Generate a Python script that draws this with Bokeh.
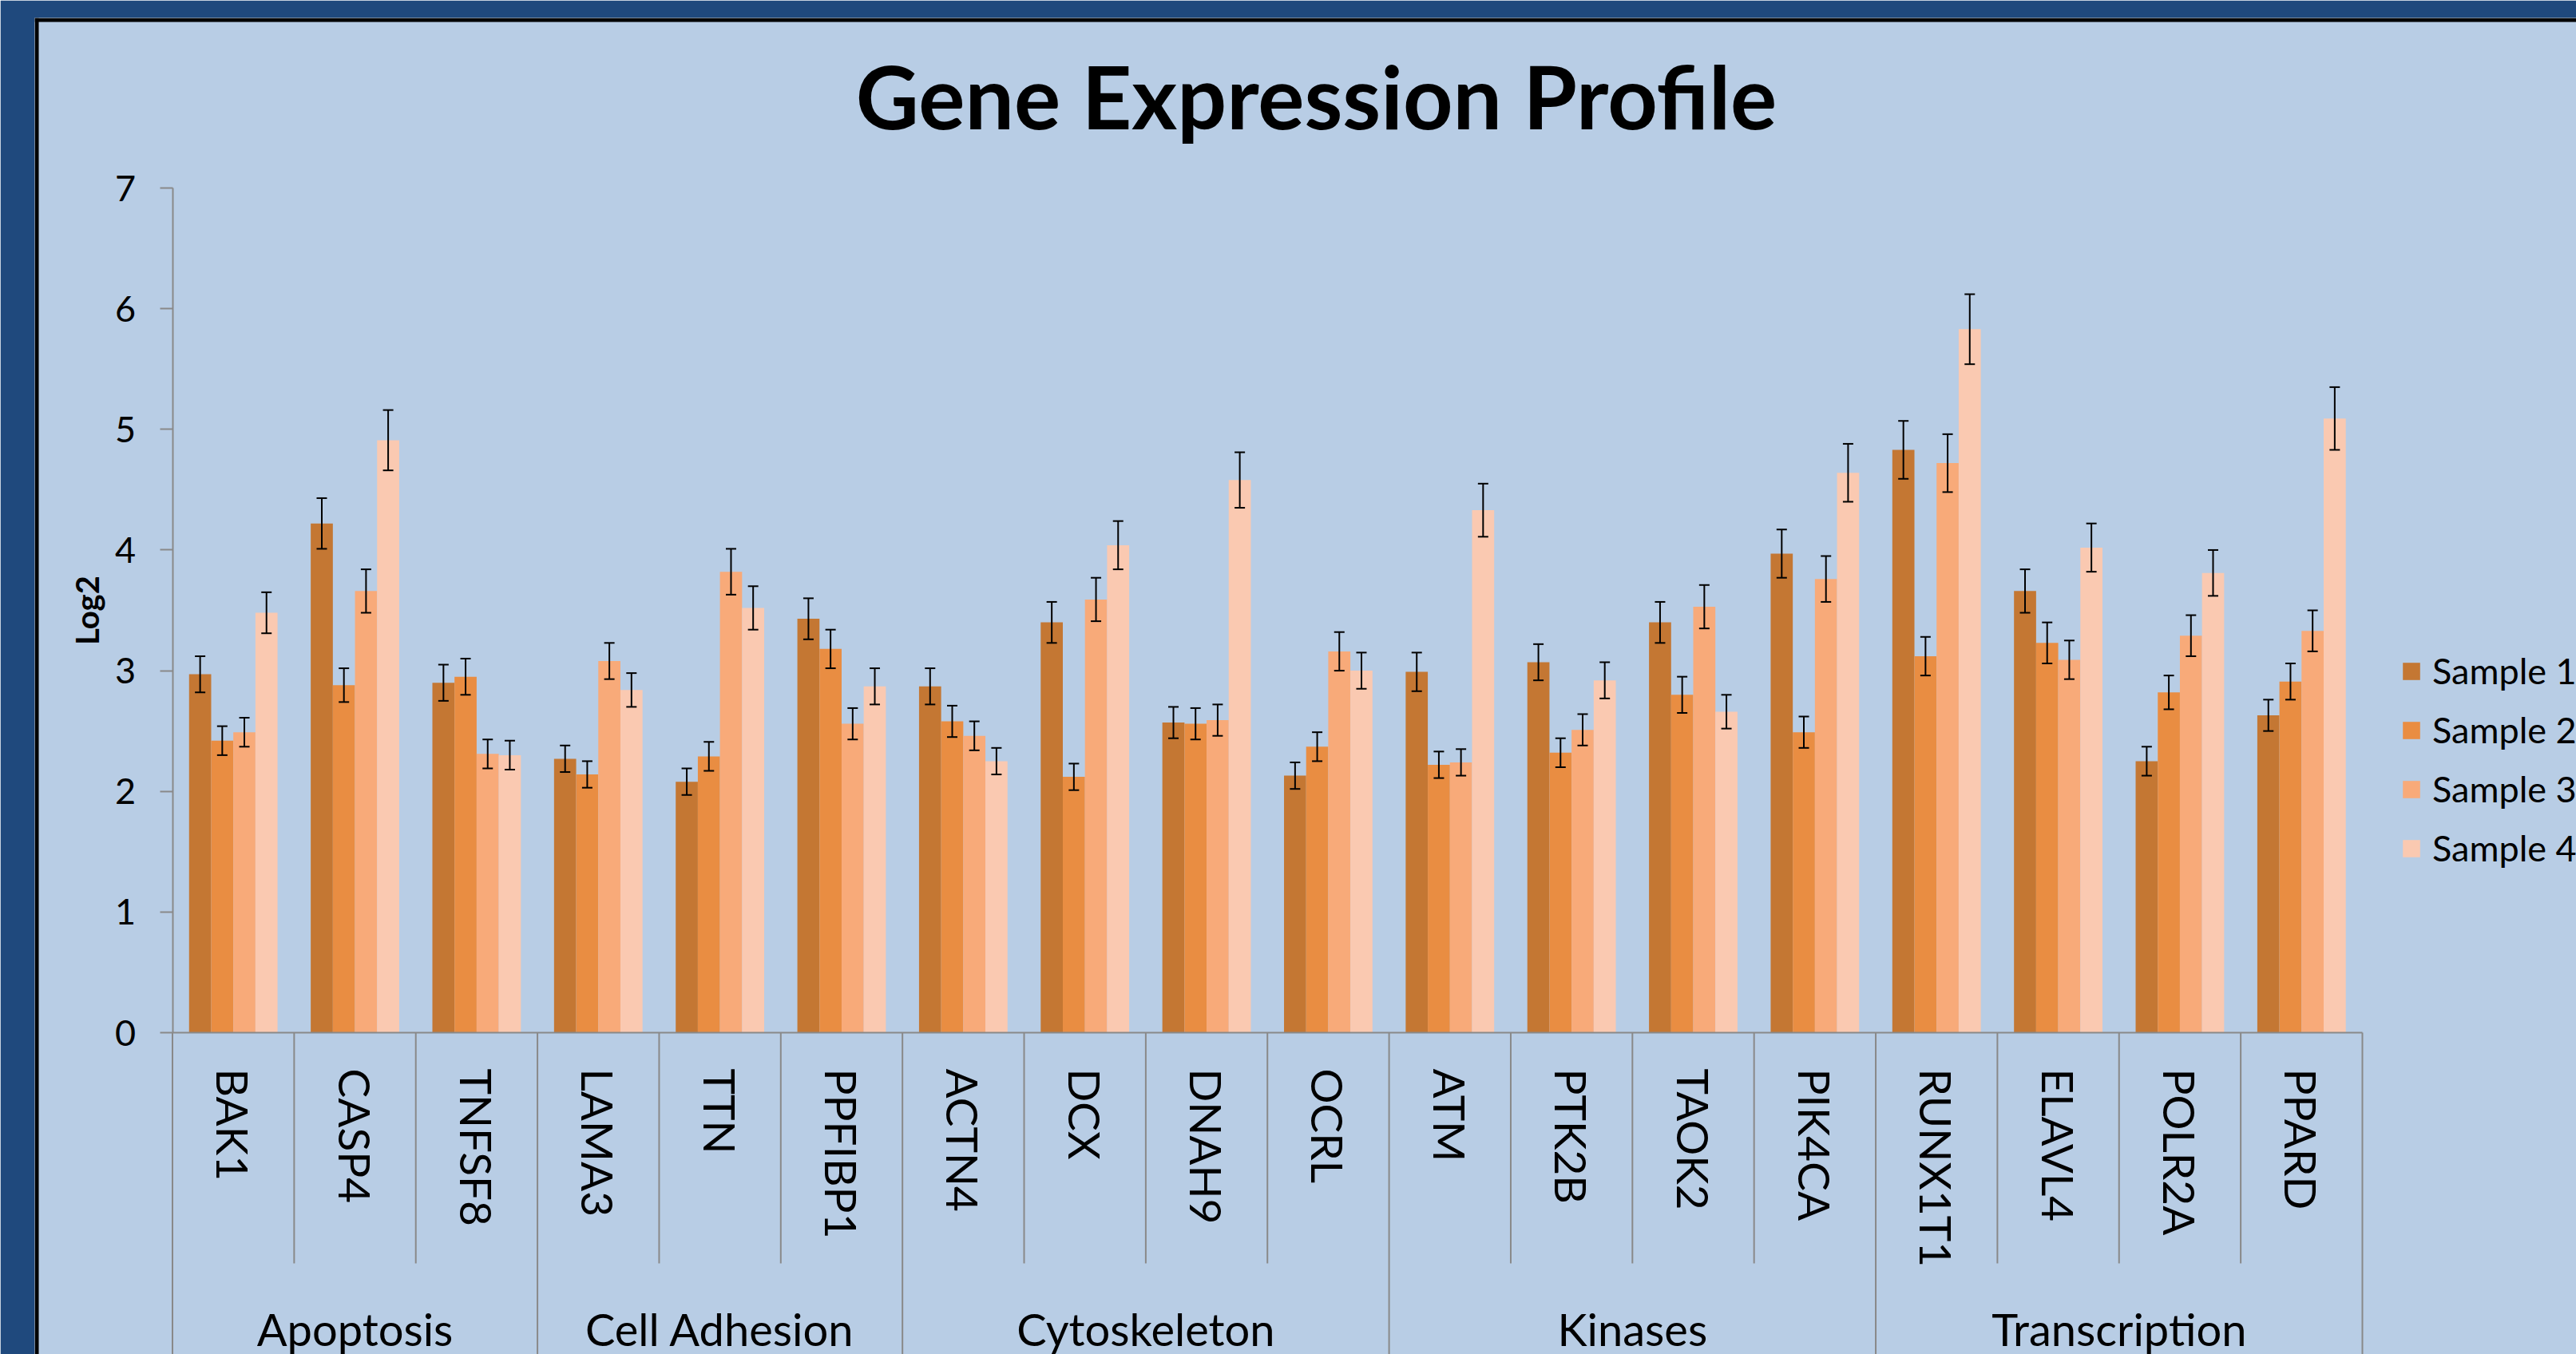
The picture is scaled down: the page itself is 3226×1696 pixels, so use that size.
import numpy as np
from bokeh.plotting import figure
from bokeh.models import (Range1d, LinearAxis, FixedTicker, Whisker, TeeHead,
                          ColumnDataSource, Legend, LegendItem, Label)
from bokeh.embed import file_html
from bokeh.resources import INLINE

# ---------------- data ----------------
genes = ["BAK1", "CASP4", "TNFSF8", "LAMA3", "TTN", "PPFIBP1", "ACTN4", "DCX",
         "DNAH9", "OCRL", "ATM", "PTK2B", "TAOK2", "PIK4CA", "RUNX1T1", "ELAVL4",
         "POLR2A", "PPARD"]
groups = ["Apoptosis", "Cell Adhesion", "Cytoskeleton", "Kinases", "Transcription"]
group_sizes = [3, 3, 4, 4, 4]
samples = ["Sample 1", "Sample 2", "Sample 3", "Sample 4"]

sample1 = [2.97, 4.22, 2.90, 2.27, 2.08, 3.43, 2.87, 3.40, 2.57, 2.13, 2.99, 3.07, 3.40, 3.97, 4.83, 3.66, 2.25, 2.63]
sample2 = [2.42, 2.88, 2.95, 2.14, 2.29, 3.18, 2.58, 2.12, 2.56, 2.37, 2.22, 2.32, 2.80, 2.49, 3.12, 3.23, 2.82, 2.91]
sample3 = [2.49, 3.66, 2.31, 3.08, 3.82, 2.56, 2.46, 3.59, 2.59, 3.16, 2.24, 2.51, 3.53, 3.76, 4.72, 3.09, 3.29, 3.33]
sample4 = [3.48, 4.91, 2.30, 2.84, 3.52, 2.87, 2.25, 4.04, 4.58, 3.00, 4.33, 2.92, 2.66, 4.64, 5.83, 4.02, 3.81, 5.09]

err1 = [0.15, 0.21, 0.15, 0.11, 0.11, 0.17, 0.15, 0.17, 0.13, 0.11, 0.16, 0.15, 0.17, 0.20, 0.24, 0.18, 0.12, 0.13]
err2 = [0.12, 0.14, 0.15, 0.11, 0.12, 0.16, 0.13, 0.11, 0.13, 0.12, 0.11, 0.12, 0.15, 0.13, 0.16, 0.17, 0.14, 0.15]
err3 = [0.12, 0.18, 0.12, 0.15, 0.19, 0.13, 0.12, 0.18, 0.13, 0.16, 0.11, 0.13, 0.18, 0.19, 0.24, 0.16, 0.17, 0.17]
err4 = [0.17, 0.25, 0.12, 0.14, 0.18, 0.15, 0.11, 0.20, 0.23, 0.15, 0.22, 0.15, 0.14, 0.24, 0.29, 0.20, 0.19, 0.26]

y_ticks = [0, 1, 2, 3, 4, 5, 6, 7]

values = [sample1, sample2, sample3, sample4]
errors = [err1, err2, err3, err4]
colors = ["#C47733", "#E98D42", "#F8AA79", "#FAC9B1"]

# ---------------- layout helpers (page pixel -> data) ----------------
AX0, CAT = 215.5, 152.36      # x pixel of category 0 boundary, px per category
Y0, UNIT = 1293.0, 151.14     # y pixel of value 0, px per unit
def px2x(rx):
    return (rx - AX0) / CAT
def px2y(ry):
    return (Y0 - ry) / UNIT

FONT = "Lato"
GRAY = "#898989"
W, H = 3226, 1696
LEFT, TOP = 43, 22

p = figure(width=W, height=H,
           x_range=Range1d(px2x(LEFT), px2x(W)),
           y_range=Range1d(px2y(H), px2y(TOP)),
           x_axis_location=None, y_axis_location=None, title=None,
           output_backend="svg", toolbar_location=None,
           min_border_left=LEFT, min_border_top=TOP, min_border_right=0, min_border_bottom=0,
           border_fill_color="#1F497D", background_fill_color="#B8CDE5",
           outline_line_color=None)
p.grid.visible = False

# black frame edge (left + top)
p.quad(left=[px2x(LEFT)], right=[px2x(LEFT + 5)], bottom=[px2y(H)], top=[px2y(TOP)],
       fill_color="black", line_color=None)
p.quad(left=[px2x(LEFT)], right=[px2x(W)], bottom=[px2y(TOP + 5)], top=[px2y(TOP)],
       fill_color="black", line_color=None)

# ---------------- bars + error bars ----------------
n = len(genes)
bw = 1.0 / 5.5
centers = np.arange(n) + 0.5
items = []
for j in range(4):
    xs = centers + (j - 1.5) * bw
    v = np.array(values[j])
    e = np.array(errors[j])
    src = ColumnDataSource(dict(x=xs, top=v, upper=v + e, lower=v - e))
    r = p.vbar(x="x", top="top", bottom=0, width=bw, source=src,
               fill_color=colors[j], line_color=None)
    items.append(LegendItem(label=samples[j], renderers=[r]))
    wk = Whisker(source=src, base="x", upper="upper", lower="lower", level="overlay",
                 line_color="black", line_width=2,
                 upper_head=TeeHead(size=13, line_color="black", line_width=2),
                 lower_head=TeeHead(size=13, line_color="black", line_width=2))
    p.add_layout(wk)

# ---------------- separators below the category axis ----------------
bounds_grp = np.concatenate([[0], np.cumsum(group_sizes)])
inner = [b for b in range(1, n) if b not in set(bounds_grp)]
p.segment(x0=inner, y0=[0] * len(inner), x1=inner, y1=[px2y(1582)] * len(inner),
          line_color=GRAY, line_width=2)
p.segment(x0=list(bounds_grp), y0=[0] * len(bounds_grp), x1=list(bounds_grp),
          y1=[px2y(H + 10)] * len(bounds_grp), line_color=GRAY, line_width=2)

# ---------------- axes ----------------
yax = LinearAxis(fixed_location=0, ticker=FixedTicker(ticks=y_ticks),
                 bounds=(0, 7),
                 axis_line_color=GRAY, axis_line_width=2,
                 major_tick_line_color=GRAY, major_tick_line_width=2,
                 major_tick_out=16, major_tick_in=0,
                 minor_tick_out=0, minor_tick_in=0,
                 major_label_text_font=FONT, major_label_text_font_size="45px",
                 major_label_text_color="black", major_label_standoff=30,
                 axis_label="Log2", axis_label_text_font=FONT,
                 axis_label_text_font_style="bold", axis_label_text_font_size="40px",
                 axis_label_text_color="black", axis_label_standoff=8)
p.add_layout(yax, "left")

gene_ax = LinearAxis(fixed_location=0, ticker=FixedTicker(ticks=list(centers)),
                     bounds=(0, n),
                     major_label_overrides={float(c): g for c, g in zip(centers, genes)},
                     major_label_orientation="vertical",
                     axis_line_color=GRAY, axis_line_width=2,
                     major_tick_out=0, major_tick_in=0, minor_tick_out=0, minor_tick_in=0,
                     major_label_text_font=FONT, major_label_text_font_size="55px",
                     major_label_text_color="black", major_label_standoff=45)
p.add_layout(gene_ax, "below")

grp_centers = [(bounds_grp[k] + bounds_grp[k + 1]) / 2 for k in range(len(groups))]
grp_ax = LinearAxis(fixed_location=0, ticker=FixedTicker(ticks=grp_centers),
                    major_label_overrides={float(c): g for c, g in zip(grp_centers, groups)},
                    axis_line_color=None,
                    major_tick_out=0, major_tick_in=0, minor_tick_out=0, minor_tick_in=0,
                    major_label_text_font=FONT, major_label_text_font_size="56px",
                    major_label_text_color="black", major_label_standoff=337)
p.add_layout(grp_ax, "below")

# ---------------- title ----------------
p.add_layout(Label(x=px2x(1648), y=px2y(119), text="Gene Expression Profile",
                   text_align="center", text_baseline="middle",
                   text_font=FONT, text_font_style="bold", text_font_size="109px",
                   text_color="black"))

# ---------------- legend ----------------
legend = Legend(items=items, location=(2963, 607), orientation="vertical",
                glyph_width=27, glyph_height=27, label_height=27,
                label_standoff=13, spacing=20, padding=0, margin=0,
                label_text_font=FONT, label_text_font_size="45px",
                label_text_color="black",
                border_line_color=None, background_fill_alpha=0)
p.add_layout(legend)

open("out.html", "w").write(file_html(p, INLINE))
